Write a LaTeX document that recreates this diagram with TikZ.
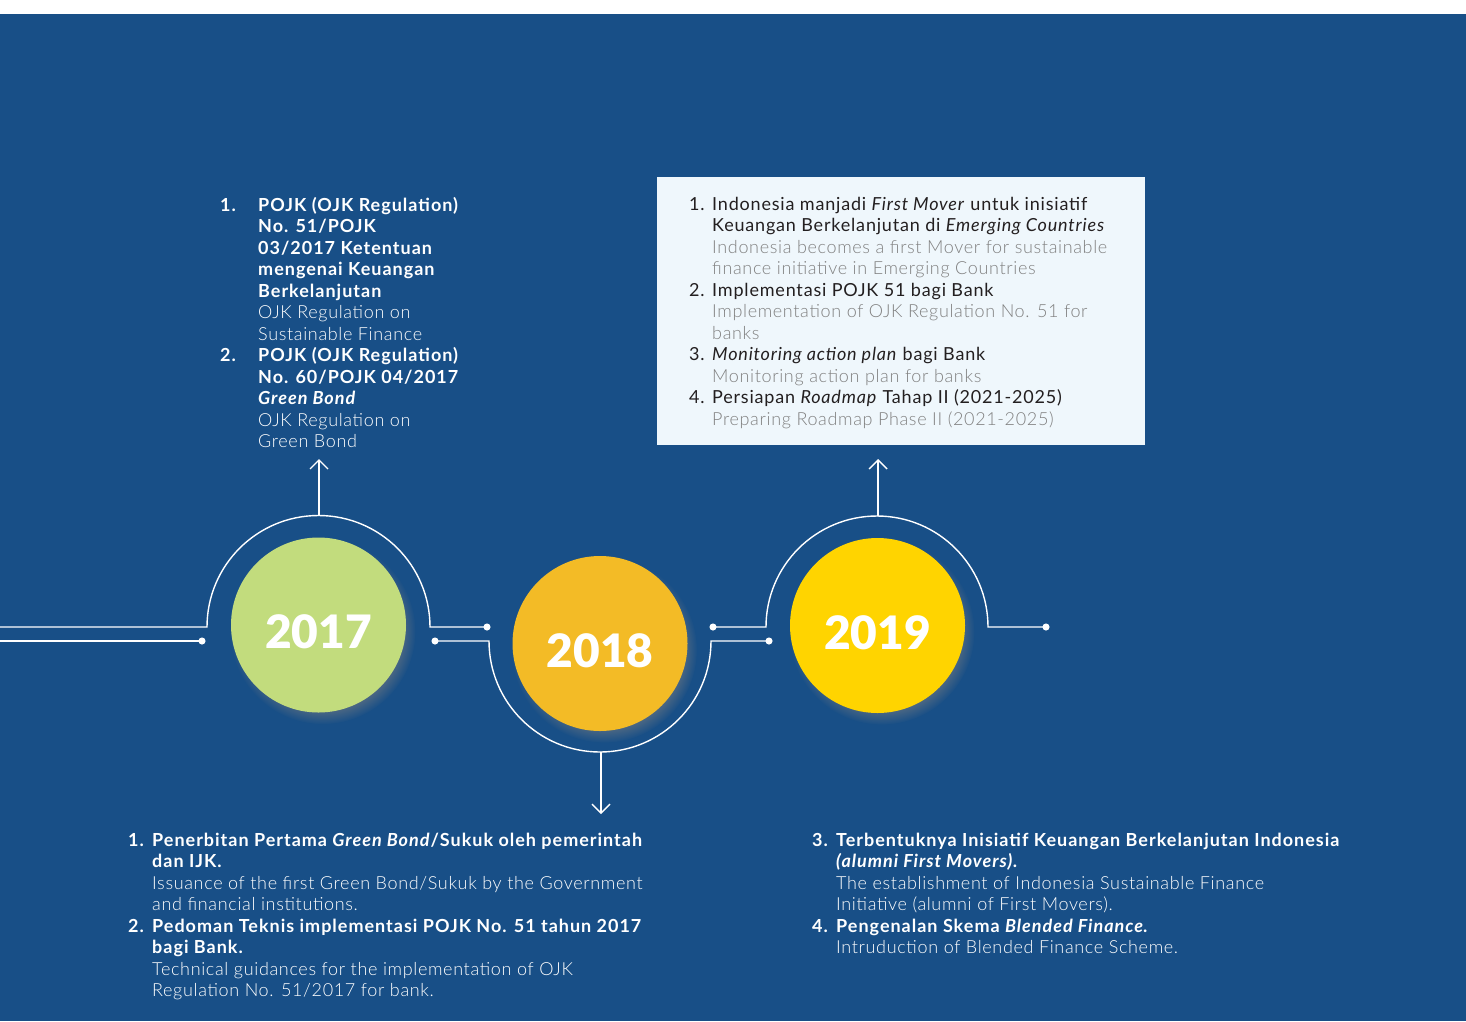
\documentclass[tikz,border=0pt]{standalone}
\usepackage{fontspec}
\setmainfont{Lato}[LetterSpace=4.5,
  BoldFeatures={LetterSpace=5.5}, BoldItalicFeatures={LetterSpace=5.5}]
\newfontfamily\lightfont{Lato Light}[LetterSpace=3.6]
\newfontfamily\yearfont{Lato Black}
\usetikzlibrary{arrows.meta,shadows,fadings}
\definecolor{bgblue}{HTML}{184F87}
\definecolor{ball17}{HTML}{C2DC7D}
\definecolor{ball18}{HTML}{F3BB26}
\definecolor{ball19}{HTML}{FFD400}
\definecolor{boxfill}{HTML}{EFF7FC}
\definecolor{boxtext}{HTML}{231F20}
\definecolor{boxgray}{HTML}{808080}
\tikzset{
  wire/.style={white, line width=1.4pt},
  dotend/.style={-{Circle[length=7pt]}},
  dotboth/.style={{Circle[length=7pt]}-{Circle[length=7pt]}},
  pin/.style={white, line width=1.4pt, -{Straight Barb[length=9pt,width=18pt]}},
  yearball/.style={circle, minimum size=175pt, inner sep=0pt, text=white,
    text height=47pt, text depth=0pt, font=\fontsize{46}{46}\selectfont\yearfont,
    circular drop shadow={shadow xshift=4pt, shadow yshift=-6pt, opacity=0.5, shadow scale=1.06}},
  notes/.style={anchor=base west, inner sep=0pt, align=left, font=\fontsize{18}{21.5}\selectfont}
}
\begin{document}
\begin{tikzpicture}[x=1pt, y=1pt]
    \fill[white] (0,0) rectangle (1466,-1021);
    \fill[bgblue] (0,-14) rectangle (1466,-1021);
    \useasboundingbox (0,0) rectangle (1466,-1021);

    \node[yearball, fill=ball17] (y2017) at (318.5,-625) {2017};
    \node[yearball, fill=ball18] (y2018) at (600,-643.5) {2018};
    \node[yearball, fill=ball19] (y2019) at (877.5,-625.5) {2019};

    \coordinate (w0) at (0,-627);
    \coordinate (w1) at (490.5,-627);
    \coordinate (w2) at (0,-641);
    \coordinate (w3) at (205.5,-641);
    \coordinate (w4) at (431.5,-641);
    \coordinate (w5) at (772.5,-641);
    \coordinate (w6) at (709.5,-627);
    \coordinate (w7) at (1049.5,-627);
    \draw[wire, dotend] (w0) -- (207,-627) arc[start angle=180, end angle=0, radius=111.5] -- (w1);
    \draw[wire, dotend] (w2) -- (w3);
    \draw[wire, dotboth] (w4) -- (489,-641) arc[start angle=180, end angle=360, radius=111] -- (w5);
    \draw[wire, dotboth] (w6) -- (766,-627) arc[start angle=180, end angle=0, radius=111] -- (w7);

    \coordinate (a17) at (319,-516);
    \coordinate (t17) at (319,-459);
    \coordinate (a18) at (601,-752);
    \coordinate (t18) at (601,-814);
    \coordinate (a19) at (878,-516);
    \coordinate (t19) at (878,-459);
    \draw[pin] (a17) -- (t17);
    \draw[pin] (a18) -- (t18);
    \draw[pin] (a19) -- (t19);

    \node[notes, text=white] (n2017) at (220,-211) {%
      \begin{tabular}[t]{@{}p{38pt}@{}l@{}}
      \textbf{1.} & \textbf{POJK (OJK Regulation)}\\
       & \textbf{No. 51/POJK}\\
       & \textbf{03/2017 Ketentuan}\\
       & \textbf{mengenai Keuangan}\\
       & \textbf{Berkelanjutan}\\
       & \lightfont OJK Regulation on\\
       & \lightfont Sustainable Finance\\
      \textbf{2.} & \textbf{POJK (OJK Regulation)}\\
       & \textbf{No. 60/POJK 04/2017}\\
       & \textbf{\itshape Green Bond}\\
       & \lightfont OJK Regulation on\\
       & \lightfont Green Bond
      \end{tabular}};

    \node[fill=boxfill, anchor=north west, inner sep=0pt, minimum width=488pt, minimum height=268pt] (box) at (657,-177) {};
    \node[notes, text=boxtext] (n2019) at (689,-210) {%
      \begin{tabular}[t]{@{}p{23pt}@{}l@{}}
      1. & Indonesia manjadi \textit{First Mover} untuk inisiatif\\
       & Keuangan Berkelanjutan di \textit{Emerging Countries}\\
       & \lightfont\color{boxgray} Indonesia becomes a first Mover for sustainable\\
       & \lightfont\color{boxgray} finance initiative in Emerging Countries\\
      2. & Implementasi POJK 51 bagi Bank\\
       & \lightfont\color{boxgray} Implementation of OJK Regulation No. 51 for\\
       & \lightfont\color{boxgray} banks\\
      3. & \textit{Monitoring action plan} bagi Bank\\
       & \lightfont\color{boxgray} Monitoring action plan for banks\\
      4. & Persiapan \textit{Roadmap} Tahap II (2021-2025)\\
       & \lightfont\color{boxgray} Preparing Roadmap Phase II (2021-2025)
      \end{tabular}};

    \node[notes, text=white] (n2018a) at (128,-846) {%
      \begin{tabular}[t]{@{}p{24pt}@{}l@{}}
      \textbf{1.} & \textbf{Penerbitan Pertama \textit{Green Bond}/Sukuk oleh pemerintah}\\
       & \textbf{dan IJK.}\\
       & \lightfont Issuance of the first Green Bond/Sukuk by the Government\\
       & \lightfont and financial institutions.\\
      \textbf{2.} & \textbf{Pedoman Teknis implementasi POJK No. 51 tahun 2017}\\
       & \textbf{bagi Bank.}\\
       & \lightfont Technical guidances for the implementation of OJK\\
       & \lightfont Regulation No. 51/2017 for bank.
      \end{tabular}};

    \node[notes, text=white] (n2018b) at (812,-846) {%
      \begin{tabular}[t]{@{}p{24pt}@{}l@{}}
      \textbf{3.} & \textbf{Terbentuknya Inisiatif Keuangan Berkelanjutan Indonesia}\\
       & \textbf{\itshape (alumni First Movers).}\\
       & \lightfont The establishment of Indonesia Sustainable Finance\\
       & \lightfont Initiative (alumni of First Movers).\\
      \textbf{4.} & \textbf{Pengenalan Skema \textit{Blended Finance}.}\\
       & \lightfont Intruduction of Blended Finance Scheme.
      \end{tabular}};
\end{tikzpicture}
\end{document}
